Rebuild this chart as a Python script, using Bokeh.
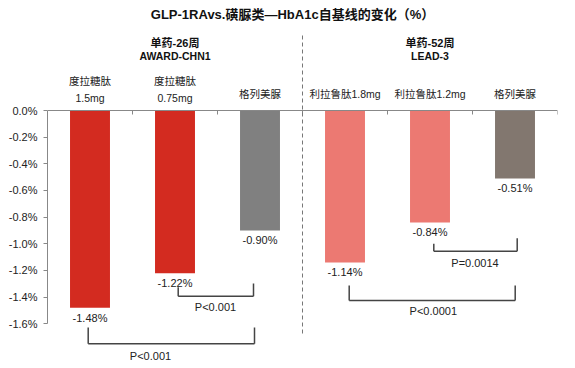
from bokeh.plotting import figure
from bokeh.models import Range1d, PrintfTickFormatter, FixedTicker
from bokeh.core.properties import value
from bokeh.embed import file_html
from bokeh.resources import INLINE

# ---- data ----
cat_line1 = ["度拉糖肽", "度拉糖肽", "格列美脲", "利拉鲁肽1.8mg", "利拉鲁肽1.2mg", "格列美脲"]
cat_line2 = ["1.5mg", "0.75mg", "", "", "", ""]
values = [-1.48, -1.22, -0.90, -1.14, -0.84, -0.51]
value_labels = ["-1.48%", "-1.22%", "-0.90%", "-1.14%", "-0.84%", "-0.51%"]
colors = ["#D32B20", "#D32B20", "#808080", "#EC7972", "#EC7972", "#82776F"]
groups = ["单药-26周", "单药-52周"]
group_trials = ["AWARD-CHN1", "LEAD-3"]
p_values = ["P<0.001", "P<0.001", "P=0.0014", "P<0.0001"]
title = "GLP-1RAvs.磺脲类—HbA1c自基线的变化（%）"
y_ticks = [0.0, -0.2, -0.4, -0.6, -0.8, -1.0, -1.2, -1.4, -1.6]

FONT = value("'Liberation Sans', 'Noto Sans CJK SC'")

# pixel -> data helpers (frame: x0 at px 47, 85 px per slot; y=0 at px 110, 133.33 px per unit)
def X(px):
    return (px - 47) / 85.0

def Y(py):
    return (110 - py) / 133.33

p = figure(width=575, height=368, output_backend="svg", toolbar_location=None,
           x_range=Range1d(0, 6), y_range=Range1d(Y(368), Y(0)),
           x_axis_location=None, min_border_left=47, min_border_right=18,
           min_border_top=0, min_border_bottom=0)
p.outline_line_color = None
p.xgrid.visible = False
p.ygrid.visible = False

yax = p.yaxis[0]
yax.ticker = FixedTicker(ticks=y_ticks)
yax.formatter = PrintfTickFormatter(format="%.1f%%")
yax.bounds = (-1.6, 0)
yax.axis_line_color = "#888888"
yax.major_tick_line_color = "#888888"
yax.major_tick_in = 0
yax.major_tick_out = 4
yax.minor_tick_line_color = None
yax.major_label_standoff = 6
yax.major_label_text_font = "Liberation Sans"
yax.major_label_text_font_size = "11px"
yax.major_label_text_color = "#222222"

xs = [i + 0.5 for i in range(len(values))]

# bars
p.vbar(x=xs, top=0, bottom=values, width=0.47, color=colors, line_color=None)

# baseline (category axis) with ticks at slot boundaries
p.segment(x0=[0], y0=[0], x1=[6], y1=[0], line_color="#888888", line_width=1)
bounds_x = list(range(1, len(values) + 1))
p.segment(x0=bounds_x, y0=[0] * len(bounds_x), x1=bounds_x, y1=[Y(114)] * len(bounds_x),
          line_color="#888888", line_width=1)

# group divider (dashed)
p.segment(x0=[3], y0=[Y(35)], x1=[3], y1=[Y(333)], line_color="#777777",
          line_width=1, line_dash="4 3")

# value labels under bars
p.text(x=xs, y=values, text=value_labels, text_align="center", text_baseline="middle",
       y_offset=10, text_font=FONT, text_font_size="11px", text_color="#222222")

# category labels
one_x, one_t, two_x, two_a, two_b = [], [], [], [], []
for x, a, b in zip(xs, cat_line1, cat_line2):
    if b:
        two_x.append(x); two_a.append(a); two_b.append(b)
    else:
        one_x.append(x); one_t.append(a)
p.text(x=one_x, y=[Y(93.5)] * len(one_x), text=one_t, text_align="center",
       text_baseline="middle", text_font=FONT, text_font_size="10.5px", text_color="#222222")
p.text(x=two_x, y=[Y(80.7)] * len(two_x), text=two_a, text_align="center",
       text_baseline="middle", text_font=FONT, text_font_size="10.5px", text_color="#222222")
p.text(x=two_x, y=[Y(97.3)] * len(two_x), text=two_b, text_align="center",
       text_baseline="middle", text_font=FONT, text_font_size="10.5px", text_color="#222222")

# group headers
gx = [1.5, 4.5]
p.text(x=gx, y=[Y(42.7)] * 2, text=groups, text_align="center", text_baseline="middle",
       text_font=FONT, text_font_size="11px", text_font_style="bold", text_color="#111111")
p.text(x=gx, y=[Y(55)] * 2, text=group_trials, text_align="center", text_baseline="middle",
       text_font=FONT, text_font_size="10.5px", text_font_style="bold", text_color="#111111")

# title
p.text(x=[X(292)], y=[Y(14)], text=[title], text_align="center", text_baseline="middle",
       text_font=FONT, text_font_size="13px", text_font_style="bold", text_color="#111111")

# significance brackets: (left px, right px, horiz py, left top py, right top py, text x px, text y py)
brackets = [
    (87.7, 254.0, 343.3, 327.0, 327.0, 150.0, 355.7),
    (177.7, 253.0, 295.7, 286.7, 283.0, 215.0, 306.0),
    (433.3, 516.7, 250.7, 243.3, 237.7, 474.5, 262.7),
    (348.7, 514.7, 300.0, 285.0, 285.0, 432.8, 310.7),
]
bx0, by0, bx1, by1 = [], [], [], []
tx, ty = [], []
for (l, r, h, lt, rt, txp, typ) in brackets:
    bx0 += [X(l), X(l), X(r)]
    bx1 += [X(r), X(l), X(r)]
    by0 += [Y(h), Y(h), Y(h)]
    by1 += [Y(h), Y(lt), Y(rt)]
    tx.append(X(txp)); ty.append(Y(typ))
p.segment(x0=bx0, y0=by0, x1=bx1, y1=by1, line_color="#444444", line_width=1.5)
p.text(x=tx, y=ty, text=p_values, text_align="center", text_baseline="middle",
       text_font=FONT, text_font_size="11px", text_color="#222222")

open("out.html", "w").write(file_html(p, INLINE))
